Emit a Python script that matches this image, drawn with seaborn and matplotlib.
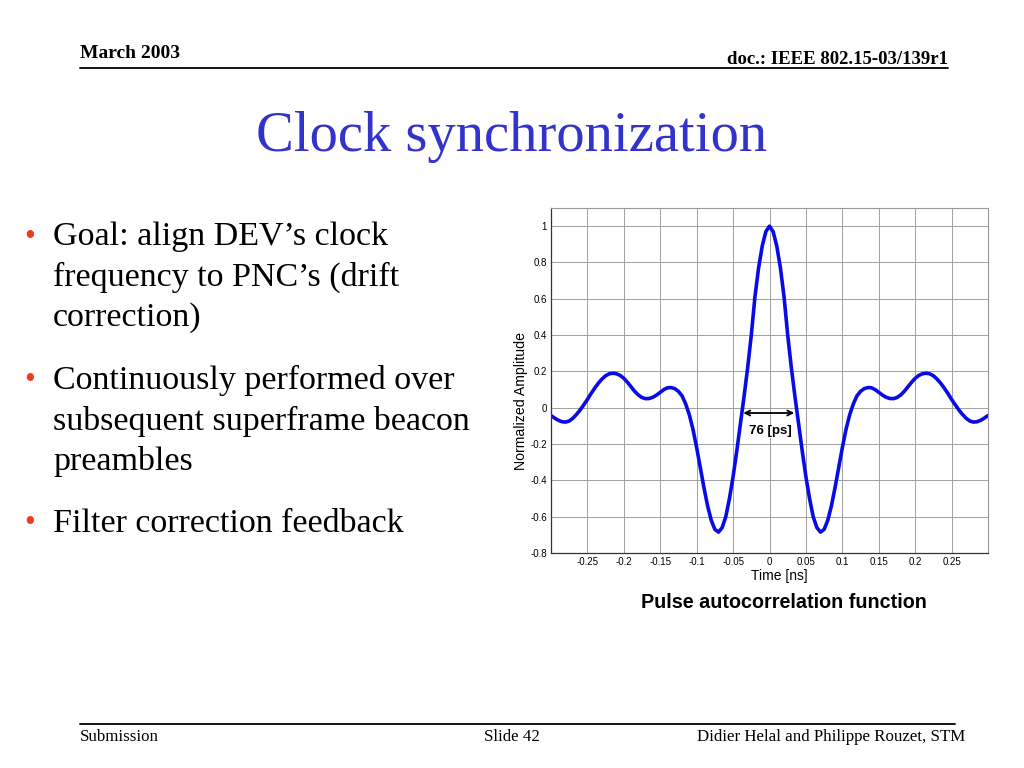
import matplotlib
matplotlib.use("Agg")
import matplotlib.pyplot as plt
import numpy as np
import seaborn as sns

# ---- slide text ----
HEADER_LEFT = "March 2003"
HEADER_RIGHT = "doc.: IEEE 802.15-03/139r1"
TITLE = "Clock synchronization"
BULLETS = [
    ["Goal: align DEV’s clock", "frequency to PNC’s (drift", "correction)"],
    ["Continuously performed over", "subsequent superframe beacon", "preambles"],
    ["Filter correction feedback"],
]
FOOTER_LEFT = "Submission"
FOOTER_MID = "Slide 42"
FOOTER_RIGHT = "Didier Helal and Philippe Rouzet, STM"
CAPTION = "Pulse autocorrelation function"

# ---- curve (right half; the curve is symmetric) ----
t_half = [0.0, 0.005, 0.01, 0.015, 0.02, 0.025, 0.03, 0.035, 0.04, 0.045,
          0.05, 0.055, 0.06, 0.065, 0.07, 0.075, 0.08, 0.085, 0.09, 0.095,
          0.1, 0.105, 0.11, 0.115, 0.12, 0.125, 0.13, 0.135, 0.14, 0.145,
          0.15, 0.155, 0.16, 0.165, 0.17, 0.175, 0.18, 0.185, 0.19, 0.195,
          0.2, 0.205, 0.21, 0.215, 0.22, 0.225, 0.23, 0.235, 0.24, 0.245,
          0.25, 0.255, 0.26, 0.265, 0.27, 0.275, 0.28, 0.285, 0.29, 0.295, 0.3]
amp_half = [1.0, 0.97, 0.89, 0.77, 0.61, 0.40, 0.22, 0.06, -0.09, -0.24,
            -0.38, -0.50, -0.60, -0.66, -0.685, -0.67, -0.62, -0.54, -0.44, -0.33,
            -0.22, -0.12, -0.04, 0.02, 0.065, 0.09, 0.105, 0.111, 0.11, 0.10,
            0.085, 0.07, 0.058, 0.051, 0.05, 0.056, 0.07, 0.09, 0.115, 0.14,
            0.162, 0.178, 0.187, 0.19, 0.187, 0.176, 0.158, 0.135, 0.108, 0.078,
            0.046, 0.016, -0.012, -0.037, -0.058, -0.073, -0.079, -0.077, -0.069, -0.057, -0.043]

t = np.concatenate([-np.array(t_half[:0:-1]), np.array(t_half)])
amp = np.concatenate([np.array(amp_half[:0:-1]), np.array(amp_half)])

x_ticks = [-0.25, -0.2, -0.15, -0.1, -0.05, 0, 0.05, 0.1, 0.15, 0.2, 0.25]
x_tick_labels = ["-0.25", "-0.2", "-0.15", "-0.1", "-0.05", "0", "0.05", "0.1", "0.15", "0.2", "0.25"]
y_ticks = [-0.8, -0.6, -0.4, -0.2, 0, 0.2, 0.4, 0.6, 0.8, 1]
y_tick_labels = ["-0.8", "-0.6", "-0.4", "-0.2", "0", "0.2", "0.4", "0.6", "0.8", "1"]

WIDTH_LABEL = "76 [ps]"
width_left, width_right, width_y = -0.036, 0.034, -0.029

SERIF = ["Liberation Serif", "DejaVu Serif"]
SANS = ["Liberation Sans", "DejaVu Sans"]
C_TITLE = "#3333CC"
C_BULLET = "#EE3B1F"

sns.set_theme(style="whitegrid")
plt.rcParams["font.family"] = SANS
plt.rcParams["text.color"] = "black"
plt.rcParams["axes.labelcolor"] = "black"

W, H = 1024, 768
fig = plt.figure(figsize=(W / 100, H / 100), dpi=100)
fig.patch.set_facecolor("white")


def px(x, y):
    return x / W, 1 - y / H


# header / footer
fig.text(*px(80, 54), HEADER_LEFT, family=SERIF, fontweight="bold", fontsize=14, va="center", ha="left")
fig.text(*px(948, 59), HEADER_RIGHT, family=SERIF, fontweight="bold", fontsize=13.5, va="center", ha="right")
fig.add_artist(plt.Line2D([80 / W, 948 / W], [1 - 68 / H] * 2, color="black", lw=1.3))
fig.add_artist(plt.Line2D([80 / W, 955 / W], [1 - 724 / H] * 2, color="black", lw=1.3))
fig.text(*px(80, 737), FOOTER_LEFT, family=SERIF, fontsize=12.2, va="center", ha="left")
fig.text(*px(512, 737), FOOTER_MID, family=SERIF, fontsize=12.2, va="center", ha="center")
fig.text(*px(965, 737), FOOTER_RIGHT, family=SERIF, fontsize=12.2, va="center", ha="right")

# title
fig.text(*px(512, 137), TITLE, family=SERIF, fontsize=40.8, color=C_TITLE, va="center", ha="center")

# bullets
y = 237
for group in BULLETS:
    fig.text(*px(30, y), "•", family=SERIF, fontsize=22, color=C_BULLET, va="center", ha="center")
    for line in group:
        fig.text(*px(53, y), line, family=SERIF, fontsize=24.5, va="center", ha="left")
        y += 40.5
    y += 22

# plot
ax = fig.add_axes([551 / W, 1 - 553 / H, 437 / W, 345 / H])
sns.lineplot(x=t, y=amp, ax=ax, color="#0A0AE6", lw=2.6, sort=False)
ax.set_xlim(-0.3, 0.3)
ax.set_ylim(-0.8, 1.1)
ax.set_xticks(x_ticks)
ax.set_xticklabels(x_tick_labels)
ax.set_yticks(y_ticks)
ax.set_yticklabels(y_tick_labels)
ax.tick_params(axis="both", labelsize=7, length=0, pad=3, colors="black")
ax.grid(True, color="#A0A0A0", lw=0.7)
ax.set_facecolor("white")
for side in ["left", "bottom"]:
    ax.spines[side].set_color("#333333")
    ax.spines[side].set_linewidth(0.9)
for side in ["top", "right"]:
    ax.spines[side].set_color("#999999")
    ax.spines[side].set_linewidth(0.8)
ax.set_xlabel("Time [ns]", fontsize=10)
ax.set_ylabel("Normalized Amplitude", fontsize=10.2)
ax.xaxis.set_label_coords((779.5 - 551) / 437, -(576 - 553) / 345)
ax.yaxis.set_label_coords((521 - 551) / 437, (553 - 401) / 345)
ax.xaxis.label.set_va("center")
ax.yaxis.label.set_va("center")

ax.annotate("", xy=(width_left, width_y), xytext=(width_right, width_y),
            arrowprops=dict(arrowstyle="<->", color="black", lw=1.3, mutation_scale=9,
                            shrinkA=0, shrinkB=0))
ax.text((width_left + width_right) / 2 + 0.002, -0.13, WIDTH_LABEL, fontsize=9.5, fontweight="bold",
        ha="center", va="center", bbox=dict(facecolor="white", edgecolor="none", pad=0.5))

fig.text(*px(784, 603), CAPTION, fontsize=14.2, fontweight="bold", va="center", ha="center")

fig.savefig("out.png", dpi=100)
